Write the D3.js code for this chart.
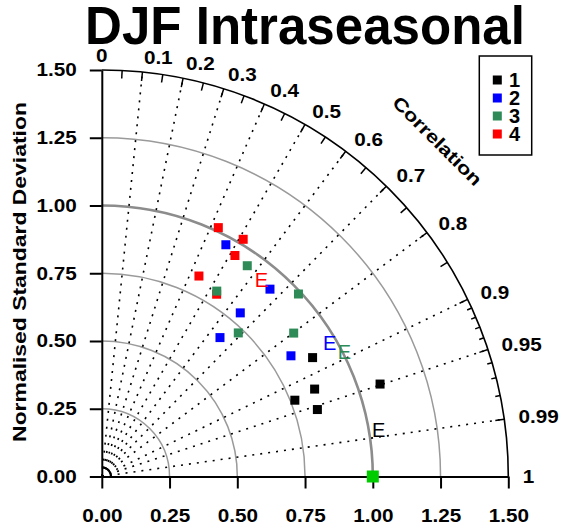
<!DOCTYPE html>
<html>
<head>
<meta charset="utf-8">
<script src="https://cdn.jsdelivr.net/npm/d3@7"></script>
<style>
  body { margin: 0; background: #fff; }
  svg { display: block; font-family: "Liberation Sans", Arial, Helvetica, sans-serif; }
</style>
</head>
<body>
<svg id="chart" width="563" height="530"></svg>
<script>
const title = "DJF Intraseasonal";
const groups = ["1", "2", "3", "4"];
const groupColors = ["#000000", "#0000ff", "#2e8b57", "#ff0000"];

// normalised standard deviation and correlation of the five members in each group
const std1 = [0.893, 0.849, 0.766, 0.833, 1.082];
const cor1 = [0.871, 0.925, 0.930, 0.955, 0.949];
const std2 = [0.970, 0.929, 0.791, 0.673, 0.828];
const cor2 = [0.472, 0.668, 0.646, 0.648, 0.843];
const std3 = [0.945, 0.805, 0.990, 0.731, 0.884];
const cor3 = [0.568, 0.527, 0.733, 0.689, 0.801];
const std4 = [1.014, 1.019, 0.952, 0.822, 0.795];
const cor4 = [0.424, 0.512, 0.516, 0.436, 0.533];

// ensemble ("E") of each group
const ensStd = [1.036, 0.975, 1.006, 0.936];
const ensCor = [0.986, 0.862, 0.890, 0.629];

// reference (observations)
const refStd = 1.0;
const refCor = 1.0;

const stdTicks = [0, 0.25, 0.5, 0.75, 1.0, 1.25, 1.5];
const stdArcs = [0.25, 0.5, 0.75, 1.0, 1.25];
const corrTicks = [0, 0.1, 0.2, 0.3, 0.4, 0.5, 0.6, 0.7, 0.8, 0.9, 0.95, 0.99, 1];
const corrLabels = ["0", "0.1", "0.2", "0.3", "0.4", "0.5", "0.6", "0.7", "0.8", "0.9", "0.95", "0.99", "1"];
const corrMinor = [0.05, 0.15, 0.25, 0.35, 0.45, 0.55, 0.65, 0.75, 0.85];
const corrFine = [0.91, 0.92, 0.93, 0.94, 0.96, 0.97, 0.98];

const stds = [std1, std2, std3, std4];
const cors = [cor1, cor2, cor3, cor4];

// geometry
const ox = 101.8, oy = 476.5;
const rMax = 406.5;
const maxStd = 1.5;

const svg = d3.select('#chart');

const r = d3.scaleLinear().domain([0, maxStd]).range([0, rMax]);
const x = d3.scaleLinear().domain([0, maxStd]).range([ox, ox + rMax]);
const y = d3.scaleLinear().domain([0, maxStd]).range([oy, oy - rMax]);
const color = d3.scaleOrdinal().domain(groups).range(groupColors);

// point on the diagram from std dev and correlation
function pos(s, c) {
  return [x(s * c), y(s * Math.sqrt(1 - c * c))];
}

// widen text horizontally around its anchor
function stretch(sel, k) {
  sel.attr('transform', function () {
    const tx = +this.getAttribute('x') || 0;
    return `translate(${tx},0) scale(${k},1) translate(${-tx},0)`;
  });
}

function quarterArc(rr) {
  const p = d3.path();
  p.moveTo(ox, oy - rr);
  p.arc(ox, oy, rr, -Math.PI / 2, 0, false);
  return p.toString();
}

// std dev arcs
svg.append('g')
  .selectAll('path')
  .data(stdArcs)
  .join('path')
  .attr('d', (d) => quarterArc(r(d)))
  .attr('fill', 'none')
  .attr('stroke', (d) => d === 1 ? '#8c8c8c' : '#9a9a9a')
  .attr('stroke-width', (d) => d === 1 ? 2.6 : 1.5);

// tiny arcs at origin
svg.append('path')
  .attr('d', quarterArc(r(0.035)))
  .attr('fill', 'none')
  .attr('stroke', '#000')
  .attr('stroke-width', 1.5);

// dotted correlation rays
svg.append('g')
  .selectAll('line')
  .data(corrTicks.filter((c) => c > 0 && c < 1))
  .join('line')
  .attr('x1', ox)
  .attr('y1', oy)
  .attr('x2', (d) => pos(maxStd, d)[0])
  .attr('y2', (d) => pos(maxStd, d)[1])
  .attr('stroke', '#000')
  .attr('stroke-width', 1.6)
  .attr('stroke-dasharray', '2,6');

// outer arc
svg.append('path')
  .attr('d', quarterArc(rMax))
  .attr('fill', 'none')
  .attr('stroke', '#000')
  .attr('stroke-width', 1.6);

// outer arc ticks
const tickData = [
  ...corrTicks.filter((c) => c > 0 && c < 1).map((c) => ({ c, len: 9 })),
  ...corrMinor.map((c) => ({ c, len: 8 })),
  ...corrFine.map((c) => ({ c, len: 5 })),
];
svg.append('g')
  .selectAll('line')
  .data(tickData)
  .join('line')
  .attr('x1', (d) => pos(maxStd, d.c)[0])
  .attr('y1', (d) => pos(maxStd, d.c)[1])
  .attr('x2', (d) => ox + (rMax - d.len) * d.c)
  .attr('y2', (d) => oy - (rMax - d.len) * Math.sqrt(1 - d.c * d.c))
  .attr('stroke', '#000')
  .attr('stroke-width', 1.5);

// correlation labels
const corrLab = svg.append('g')
  .selectAll('text')
  .data(corrTicks)
  .join('text')
  .attr('x', (d) => pos(1.553, d)[0])
  .attr('y', (d) => pos(1.553, d)[1])
  .attr('dy', '0.35em')
  .attr('text-anchor', (d) => d === 0 ? 'middle' : 'start')
  .attr('font-size', 18)
  .attr('font-weight', 'bold')
  .text((d, i) => corrLabels[i]);
stretch(corrLab, 1.15);

// "Correlation" label
const cLab = svg.append('text')
  .attr('text-anchor', 'middle')
  .attr('dy', '0.35em')
  .attr('font-size', 18)
  .attr('font-weight', 'bold')
  .text('Correlation');
{
  const [cx, cy] = pos(1.751, Math.cos(Math.PI / 4));
  const k = 118 / cLab.node().getComputedTextLength();
  cLab.attr('transform', `translate(${cx},${cy}) rotate(45) scale(${k},1)`);
}

// axes
const yAxis = svg.append('g')
  .attr('transform', `translate(${ox},0)`)
  .call(d3.axisLeft(y).tickValues(stdTicks).tickFormat(d3.format('.2f'))
    .tickSize(12).tickSizeOuter(0).tickPadding(13));
const xAxis = svg.append('g')
  .attr('transform', `translate(0,${oy})`)
  .call(d3.axisBottom(x).tickValues(stdTicks).tickFormat(d3.format('.2f'))
    .tickSize(12).tickSizeOuter(0).tickPadding(21));

[yAxis, xAxis].forEach((g) => {
  g.attr('font-family', null).attr('font-size', null);
  g.select('.domain').attr('stroke-width', 2);
  g.selectAll('.tick line').attr('stroke-width', 2);
  const t = g.selectAll('.tick text')
    .attr('font-size', 18)
    .attr('font-weight', 'bold')
    .attr('fill', '#000');
  stretch(t, 1.15);
});

// y axis title
const yTitle = svg.append('text')
  .attr('text-anchor', 'middle')
  .attr('font-size', 18)
  .attr('font-weight', 'bold')
  .text('Normalised Standard Deviation');
{
  const k = 340 / yTitle.node().getComputedTextLength();
  yTitle.attr('transform', `translate(25.5,272) rotate(-90) scale(${k},1)`);
}

// chart title
const tTitle = svg.append('text')
  .attr('text-anchor', 'middle')
  .attr('font-size', 54)
  .attr('font-weight', 'bold')
  .text(title);
{
  const k = 440 / tTitle.node().getComputedTextLength();
  tTitle.attr('transform', `translate(305,44) scale(${k},1)`);
}

// members, drawn 4..1 so green sits over red like the original
const marker = 9;
const pts = svg.append('g');
[3, 2, 1, 0].forEach((gi) => {
  pts.append('g')
    .selectAll('rect')
    .data(stds[gi].map((s, j) => ({ s, c: cors[gi][j] })))
    .join('rect')
    .attr('x', (d) => pos(d.s, d.c)[0] - marker / 2)
    .attr('y', (d) => pos(d.s, d.c)[1] - marker / 2)
    .attr('width', marker)
    .attr('height', marker)
    .attr('fill', color(groups[gi]));
});

// reference point
const [rx, ry] = pos(refStd, refCor);
svg.append('rect')
  .attr('x', rx - 6)
  .attr('y', ry - 6)
  .attr('width', 12)
  .attr('height', 12)
  .attr('fill', '#00cc00');

// ensemble "E" markers
svg.append('g')
  .selectAll('text')
  .data(groups)
  .join('text')
  .attr('x', (d, i) => pos(ensStd[i], ensCor[i])[0])
  .attr('y', (d, i) => pos(ensStd[i], ensCor[i])[1])
  .attr('dy', '0.36em')
  .attr('text-anchor', 'middle')
  .attr('font-size', 20)
  .attr('fill', (d) => color(d))
  .text('E');

// legend
const ly = d3.scalePoint().domain(groups).range([80, 134]);
const legend = svg.append('g');
legend.append('rect')
  .attr('x', 479.3)
  .attr('y', 56)
  .attr('width', 52.4)
  .attr('height', 99)
  .attr('fill', '#fff')
  .attr('stroke', '#000')
  .attr('stroke-width', 1.5);
legend.selectAll('.key')
  .data(groups)
  .join('rect')
  .attr('class', 'key')
  .attr('x', 497.3 - 4.5)
  .attr('y', (d) => ly(d) - 4.5)
  .attr('width', 9)
  .attr('height', 9)
  .attr('fill', (d) => color(d));
legend.selectAll('.lab')
  .data(groups)
  .join('text')
  .attr('class', 'lab')
  .attr('x', 509)
  .attr('y', (d) => ly(d))
  .attr('dy', '0.36em')
  .attr('font-size', 20)
  .attr('font-weight', 'bold')
  .text((d) => d);
</script>
</body>
</html>
